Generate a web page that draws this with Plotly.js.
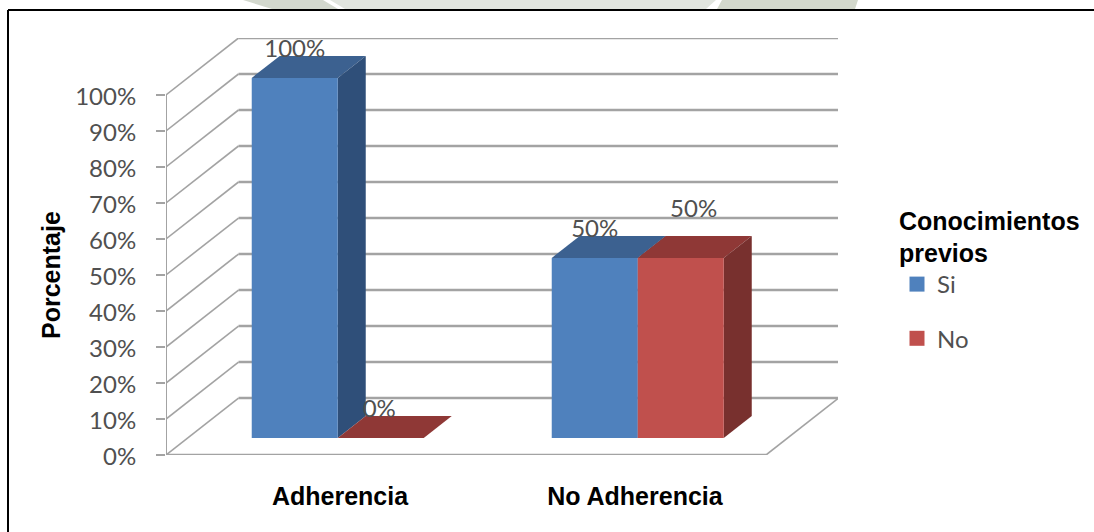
<!DOCTYPE html>
<html>
<head>
<meta charset="utf-8">
<script src="https://cdn.plot.ly/plotly-3.0.1.min.js"></script>
<style>html,body{margin:0;padding:0;background:#fff}</style>
</head>
<body>
<div id="chart" style="width:1094px;height:532px"></div>
<script>
// Chart data
const categories = ['Adherencia', 'No Adherencia'];
const siValues = [100, 50];
const noValues = [0, 50];
const percentTicks = [0, 10, 20, 30, 40, 50, 60, 70, 80, 90, 100];
const seriesNames = ['Si', 'No'];
const legendHeading = 'Conocimientos<br>previos';
const axisHeading = 'Porcentaje';

// Plot box in pixels and the oblique projection used for the 3D look
const W = 1094, H = 532;
const M = {l: 166, r: 256, t: 38, b: 77};
const xRange = [-0.5, 1.74], yRange = [0, 115.83];
const depthX = 0.2417, depthY = 15.83;      // wall offset, in axis units
const barW = 0.2867;                        // width of one bar
const barFront = 0.3, barDepth = 0.386;     // bar placement along the depth
const palette = {
  si: {front: '#4F81BD', top: '#3C6190', side: '#2F4F79'},
  no: {front: '#C0504D', top: '#8F3836', side: '#78302E'}
};
const gridColor = '#A3A3A3';
const textColor = '#505050';
const sansBold = '"Liberation Sans", Arial, sans-serif';
const tickFont = 'Lato, "Open Sans", sans-serif';

const px = v => (v - M.l) / (W - M.l - M.r);
const py = v => 1 - (v - M.t) / (H - M.t - M.b);

// Project a point (category position, value, depth 0..1) onto the axes
const proj = (x, v, d) => [x + d * depthX, v + d * depthY];

function poly(points, color) {
  const c = points.concat([points[0]]);
  return {
    type: 'scatter', mode: 'none', fill: 'toself', fillcolor: color,
    x: c.map(p => p[0]), y: c.map(p => p[1]),
    showlegend: false, hoverinfo: 'skip', cliponaxis: false
  };
}

function lineTrace(points, width) {
  return {
    type: 'scatter', mode: 'lines', x: points.map(p => p[0]), y: points.map(p => p[1]),
    line: {color: gridColor, width: width, simplify: false},
    showlegend: false, hoverinfo: 'skip', cliponaxis: false
  };
}

// Three visible faces of one bar
function barFaces(xLeft, value, colors) {
  const z0 = barFront, z1 = barFront + barDepth, xR = xLeft + barW;
  const fl = proj(xLeft, 0, z0), fr = proj(xR, 0, z0);
  const tl = proj(xLeft, value, z0), tr = proj(xR, value, z0);
  const bl = proj(xLeft, value, z1), br = proj(xR, value, z1), bb = proj(xR, 0, z1);
  const faces = [];
  faces.push(poly([tl, tr, br, bl], colors.top));
  if (value > 0) {
    faces.push(poly([fr, tr, br, bb], colors.side));
    faces.push(poly([fl, fr, tr, tl], colors.front));
  }
  return faces;
}

const traces = [];

// Wall lines: the slanted part is lighter than the run along the back
percentTicks.forEach(v => {
  traces.push(lineTrace([proj(-0.5, v, 0), proj(-0.5, v, 1)], 1.6));
  traces.push(lineTrace([proj(-0.5, v, 1), proj(1.5, v, 1)], 2.5));
});

// Floor outline and the front vertical axis
traces.push(lineTrace([proj(-0.5, 0, 0), proj(1.5, 0, 0)], 2.5));
traces.push(lineTrace([proj(1.5, 0, 0), proj(1.5, 0, 1)], 1.6));
traces.push(lineTrace([[-0.5, 0], [-0.5, percentTicks[percentTicks.length - 1]]], 2));

// Bars: the series meet at the category centre
categories.forEach((_, i) => {
  traces.push(...barFaces(i - barW, siValues[i], palette.si));
});
categories.forEach((_, i) => {
  traces.push(...barFaces(i, noValues[i], palette.no));
});

// Value labels above each bar; the second "No" label sits a little higher and to the right
const labelLift = 7.6;
const barMid = (i, s) => proj(i + (s === 0 ? -barW / 2 : barW / 2), 0, barFront)[0];
const nudgeX = [[0, 0], [-0.005, 0.043]], nudgeY = [[0, 0], [0, 5.3]];
[siValues, noValues].forEach((vals, s) => {
  traces.push({
    type: 'scatter', mode: 'text',
    x: vals.map((_, i) => barMid(i, s) + nudgeX[s][i]),
    y: vals.map((v, i) => proj(0, v, barFront)[1] + labelLift + nudgeY[s][i]),
    text: vals.map(v => v + '%'), textposition: 'middle center',
    textfont: {family: tickFont, size: 24, color: textColor},
    showlegend: false, hoverinfo: 'skip', cliponaxis: false
  });
});

// Legend entries
seriesNames.forEach((name, s) => {
  traces.push({
    type: 'scatter', mode: 'markers', x: [null], y: [null], name: name,
    legendgroup: name,
    marker: {symbol: 'square', size: 15, color: s === 0 ? palette.si.front : palette.no.front}
  });
});

const layout = {
  width: W, height: H, margin: M,
  paper_bgcolor: '#fff', plot_bgcolor: 'rgba(0,0,0,0)',
  showlegend: true,
  xaxis: {
    range: xRange, showgrid: false, zeroline: false, showline: false, fixedrange: true,
    tickmode: 'array', tickvals: [0.08, 1.063], ticktext: categories, ticks: '', ticklabelstandoff: 24,
    tickfont: {family: sansBold, size: 25, color: '#000', weight: 700}
  },
  yaxis: {
    range: yRange, showgrid: false, zeroline: false, showline: false, fixedrange: true,
    tickmode: 'array', tickvals: percentTicks, ticktext: percentTicks.map(v => v + '%'),
    ticks: 'outside', ticklen: 9, tickwidth: 2, tickcolor: gridColor, ticklabelstandoff: 15, ticklabelshift: 2,
    tickfont: {family: tickFont, size: 24, color: textColor}
  },
  legend: {
    x: px(897), xanchor: 'left', y: py(197), yanchor: 'top',
    bgcolor: 'rgba(0,0,0,0)', borderwidth: 0, traceorder: 'grouped', tracegroupgap: 20,
    title: {text: legendHeading, side: 'top', font: {family: sansBold, size: 25, color: '#000', weight: 700}},
    font: {family: tickFont, size: 24, color: textColor}, itemsizing: 'trace'
  },
  annotations: [{
    text: axisHeading, xref: 'paper', yref: 'paper', x: px(51), y: py(275),
    xanchor: 'center', yanchor: 'middle', textangle: -90, showarrow: false,
    font: {family: sansBold, size: 25, color: '#000', weight: 700}
  }],
  shapes: [
    // Faint page background showing above the frame
    {type: 'path', xref: 'paper', yref: 'paper', layer: 'below', line: {width: 0}, fillcolor: '#D3D8CE',
      path: `M${px(243)},${py(0)} L${px(323)},${py(0)} L${px(338)},${py(9)} L${px(272)},${py(9)} Z`},
    {type: 'path', xref: 'paper', yref: 'paper', layer: 'below', line: {width: 0}, fillcolor: '#E1E5DF',
      path: `M${px(330)},${py(0)} L${px(716)},${py(0)} L${px(706)},${py(9)} L${px(345)},${py(9)} Z`},
    {type: 'path', xref: 'paper', yref: 'paper', layer: 'below', line: {width: 0}, fillcolor: '#D3D8CC',
      path: `M${px(722)},${py(0)} L${px(858)},${py(0)} L${px(855)},${py(9)} L${px(717)},${py(9)} Z`},
    // Open frame around the chart
    {type: 'line', xref: 'paper', yref: 'paper', layer: 'below', line: {color: '#000', width: 2},
      x0: px(8), y0: py(10), x1: px(W), y1: py(10)},
    {type: 'line', xref: 'paper', yref: 'paper', layer: 'below', line: {color: '#000', width: 2},
      x0: px(8), y0: py(10), x1: px(8), y1: py(H)}
  ]
};

Plotly.newPlot('chart', traces, layout, {displayModeBar: false, responsive: false});
</script>
</body>
</html>
